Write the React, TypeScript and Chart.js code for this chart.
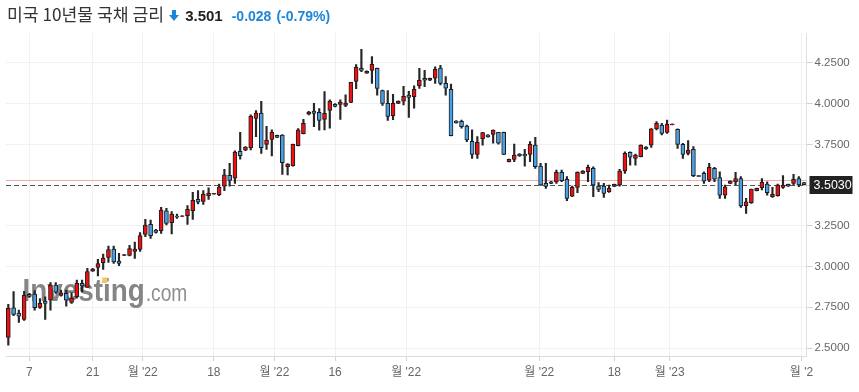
import React, { useEffect, useRef } from "react";
import { Chart, registerables } from "chart.js";

Chart.register(...registerables);

// ---- data ----
const opens = [
  2.565, 2.747, 2.714, 2.676, 2.829, 2.831, 2.749, 2.788, 2.794, 2.886,
  2.823, 2.835, 2.780, 2.815, 2.897, 2.872, 2.972, 2.995, 3.024, 3.056,
  3.107, 3.034, 3.069, 3.069, 3.093, 3.105, 3.198, 3.259, 3.224, 3.220,
  3.343, 3.269, 3.310, 3.308, 3.312, 3.343, 3.413, 3.400, 3.435, 3.445,
  3.441, 3.494, 3.560, 3.542, 3.707, 3.714, 3.730, 3.910, 3.943, 3.750,
  3.781, 3.806, 3.808, 3.613, 3.619, 3.742, 3.816, 3.935, 3.955, 3.947,
  3.904, 3.959, 3.996, 3.996, 3.990, 4.008, 4.137, 4.217, 4.187, 4.205,
  4.217, 4.080, 4.002, 3.927, 4.002, 4.015, 4.053, 4.043, 4.111, 4.156,
  4.144, 4.156, 4.219, 4.125, 4.088, 3.894, 3.892, 3.863, 3.769, 3.689,
  3.785, 3.808, 3.812, 3.824, 3.824, 3.644, 3.658, 3.691, 3.689, 3.689,
  3.746, 3.617, 3.511, 3.521, 3.519, 3.578, 3.535, 3.433, 3.486, 3.572,
  3.582, 3.603, 3.494, 3.494, 3.460, 3.492, 3.501, 3.587, 3.701, 3.664,
  3.675, 3.734, 3.746, 3.845, 3.869, 3.824, 3.871, 3.843, 3.750, 3.695,
  3.720, 3.554, 3.572, 3.531, 3.603, 3.546, 3.439, 3.511, 3.521, 3.541,
  3.374, 3.392, 3.466, 3.484, 3.507, 3.429, 3.435, 3.486, 3.505, 3.511,
  3.541, 3.515,
];
const highs = [
  2.768, 2.846, 2.733, 2.848, 2.835, 2.852, 2.804, 2.815, 2.901, 2.901,
  2.856, 2.856, 2.839, 2.917, 2.917, 2.989, 2.989, 3.044, 3.077, 3.126,
  3.126, 3.081, 3.074, 3.130, 3.150, 3.208, 3.290, 3.286, 3.228, 3.364,
  3.357, 3.337, 3.322, 3.313, 3.374, 3.456, 3.466, 3.466, 3.484, 3.450,
  3.507, 3.597, 3.634, 3.710, 3.824, 3.736, 3.931, 3.957, 4.015, 3.861,
  3.839, 3.808, 3.810, 3.632, 3.752, 3.847, 3.904, 3.953, 4.002, 3.970,
  4.074, 4.023, 4.000, 4.023, 4.054, 4.131, 4.240, 4.334, 4.201, 4.289,
  4.219, 4.084, 4.080, 4.058, 4.017, 4.107, 4.076, 4.109, 4.217, 4.205,
  4.158, 4.227, 4.236, 4.166, 4.121, 3.896, 3.900, 3.869, 3.839, 3.798,
  3.824, 3.810, 3.840, 3.824, 3.826, 3.660, 3.752, 3.693, 3.720, 3.767,
  3.794, 3.634, 3.634, 3.523, 3.593, 3.593, 3.552, 3.494, 3.582, 3.589,
  3.623, 3.613, 3.515, 3.511, 3.501, 3.507, 3.597, 3.705, 3.705, 3.691,
  3.748, 3.736, 3.847, 3.890, 3.879, 3.900, 3.876, 3.845, 3.756, 3.773,
  3.736, 3.559, 3.582, 3.634, 3.609, 3.582, 3.501, 3.527, 3.578, 3.552,
  3.419, 3.476, 3.482, 3.541, 3.521, 3.486, 3.507, 3.558, 3.507, 3.566,
  3.552, 3.517,
];
const lows = [
  2.518, 2.698, 2.657, 2.670, 2.810, 2.733, 2.743, 2.676, 2.733, 2.835,
  2.819, 2.757, 2.774, 2.806, 2.845, 2.872, 2.970, 2.942, 2.983, 3.026,
  3.019, 3.005, 3.067, 3.065, 3.050, 3.093, 3.183, 3.173, 3.205, 3.204,
  3.255, 3.200, 3.296, 3.306, 3.259, 3.290, 3.384, 3.382, 3.413, 3.444,
  3.435, 3.466, 3.494, 3.511, 3.660, 3.712, 3.716, 3.798, 3.695, 3.720,
  3.679, 3.791, 3.566, 3.562, 3.617, 3.740, 3.814, 3.931, 3.859, 3.838,
  3.839, 3.849, 3.980, 3.904, 3.982, 4.006, 4.092, 4.197, 4.186, 4.125,
  4.053, 3.990, 3.898, 3.902, 4.000, 3.992, 3.916, 3.972, 4.094, 4.105,
  4.142, 4.125, 4.115, 4.053, 3.802, 3.880, 3.849, 3.767, 3.664, 3.664,
  3.746, 3.794, 3.757, 3.752, 3.687, 3.642, 3.644, 3.677, 3.617, 3.644,
  3.603, 3.499, 3.480, 3.509, 3.511, 3.521, 3.404, 3.429, 3.454, 3.570,
  3.521, 3.429, 3.460, 3.425, 3.456, 3.490, 3.494, 3.572, 3.623, 3.623,
  3.673, 3.720, 3.732, 3.839, 3.808, 3.818, 3.870, 3.726, 3.664, 3.685,
  3.552, 3.553, 3.511, 3.521, 3.521, 3.419, 3.419, 3.509, 3.501, 3.363,
  3.327, 3.388, 3.464, 3.470, 3.439, 3.425, 3.433, 3.480, 3.492, 3.501,
  3.490, 3.501,
];
const closes = [
  2.743, 2.706, 2.696, 2.823, 2.817, 2.747, 2.774, 2.774, 2.886, 2.843,
  2.839, 2.794, 2.806, 2.897, 2.882, 2.970, 2.985, 3.019, 3.052, 3.105,
  3.028, 3.019, 3.073, 3.110, 3.107, 3.191, 3.255, 3.189, 3.210, 3.347,
  3.265, 3.323, 3.303, 3.312, 3.351, 3.406, 3.396, 3.445, 3.449, 3.449,
  3.488, 3.564, 3.529, 3.703, 3.681, 3.734, 3.922, 3.943, 3.730, 3.777,
  3.824, 3.793, 3.638, 3.630, 3.750, 3.839, 3.880, 3.949, 3.941, 3.898,
  3.941, 4.015, 3.984, 4.010, 4.004, 4.131, 4.223, 4.205, 4.199, 4.242,
  4.094, 4.002, 3.922, 4.002, 4.015, 4.045, 4.039, 4.088, 4.144, 4.144,
  4.156, 4.211, 4.125, 4.096, 3.804, 3.882, 3.859, 3.777, 3.689, 3.763,
  3.822, 3.796, 3.836, 3.757, 3.689, 3.658, 3.685, 3.679, 3.679, 3.750,
  3.613, 3.501, 3.492, 3.511, 3.578, 3.527, 3.419, 3.486, 3.578, 3.587,
  3.609, 3.501, 3.474, 3.449, 3.480, 3.505, 3.587, 3.695, 3.671, 3.685,
  3.746, 3.722, 3.845, 3.879, 3.818, 3.873, 3.875, 3.750, 3.689, 3.713,
  3.558, 3.558, 3.525, 3.609, 3.537, 3.439, 3.490, 3.525, 3.541, 3.372,
  3.398, 3.476, 3.480, 3.517, 3.453, 3.443, 3.501, 3.501, 3.494, 3.535,
  3.501, 3.503,
];

const xTickPositions = [4, 16, 25.5, 39, 50.5, 62, 75.5, 100.75, 115, 125.5, 150.5];
const xTickLabels = ["7", "21", "월 '22", "18", "월 '22", "16", "월 '22", "월 '22", "18", "월 '23", "월 '2"];
const yTicks = [2.5, 2.75, 3.0, 3.25, 3.5, 3.75, 4.0, 4.25];

const lastPrice = 3.503;
const prevClose = 3.529;

const titleName = "미국 10년물 국채 금리";
const titlePrice = "3.501";
const titleChange = "-0.028";
const titleChangePct = "(-0.79%)";
const watermarkMain = "Investing";
const watermarkSuffix = ".com";

// ---- styles ----
const UP = "#ee1111";
const DOWN = "#4aa0e6";
const FONT = "'Liberation Sans', Arial, 'Noto Sans CJK KR', sans-serif";

const overlayPlugin = {
  id: "overlay",
  beforeDatasetsDraw(chart: any) {
    const { ctx, chartArea, scales } = chart;
    const y = scales.y;
    ctx.save();
    ctx.beginPath();
    ctx.rect(chartArea.left, chartArea.top, chartArea.right - chartArea.left, chartArea.bottom - chartArea.top);
    ctx.clip();
    // watermark
    ctx.fillStyle = "#858585";
    ctx.textBaseline = "alphabetic";
    ctx.save();
    ctx.translate(22.5, 301);
    ctx.scale(0.87, 1);
    ctx.font = "bold 32px " + FONT;
    ctx.fillText(watermarkMain, 0, 0);
    const w1 = ctx.measureText(watermarkMain).width;
    ctx.restore();
    ctx.save();
    ctx.translate(22.5 + w1 * 0.87 + 1, 301);
    ctx.scale(0.8, 1);
    ctx.font = "24px " + FONT;
    ctx.fillStyle = "#8e8e8e";
    ctx.fillText(watermarkSuffix, 0, 0);
    ctx.restore();
    // orange accent
    ctx.fillStyle = "#f7c46c";
    ctx.beginPath();
    ctx.moveTo(102.5, 277.5);
    ctx.lineTo(107.5, 277.5);
    ctx.lineTo(107.5, 283);
    ctx.lineTo(101.5, 283);
    ctx.closePath();
    ctx.fill();

    // previous close line
    const yp = Math.round(y.getPixelForValue(prevClose)) + 0.5;
    ctx.strokeStyle = "#f3a8a8";
    ctx.lineWidth = 1.2;
    ctx.beginPath();
    ctx.moveTo(chartArea.left, yp);
    ctx.lineTo(chartArea.right, yp);
    ctx.stroke();
    // last price dashed line
    const yl = Math.round(y.getPixelForValue(lastPrice)) + 0.5;
    ctx.strokeStyle = "#555";
    ctx.lineWidth = 1;
    ctx.setLineDash([5, 3]);
    ctx.beginPath();
    ctx.moveTo(chartArea.left, yl);
    ctx.lineTo(chartArea.right, yl);
    ctx.stroke();
    ctx.restore();
  },
  afterDraw(chart: any) {
    const { ctx, chartArea, scales } = chart;
    const yl = scales.y.getPixelForValue(lastPrice);
    ctx.save();
    ctx.fillStyle = "#222";
    ctx.fillRect(chartArea.right + 3, Math.round(yl) - 9, 43, 18);
    ctx.fillStyle = "#fff";
    ctx.font = "12.5px " + FONT;
    ctx.textBaseline = "middle";
    ctx.textAlign = "left";
    ctx.fillText(lastPrice.toFixed(4), chartArea.right + 7, Math.round(yl) + 0.5);
    ctx.restore();
  },
};

export default function App() {
  const ref = useRef<HTMLCanvasElement | null>(null);

  useEffect(() => {
    if (!ref.current) return;
    const bodies = opens.map((o, i) => ({ x: i, y: [o, closes[i]] }));
    const wicks = lows.map((l, i) => ({ x: i, y: [l, highs[i]] }));
    const bodyColors = opens.map((o, i) => (closes[i] >= o ? UP : DOWN));

    const chart = new Chart(ref.current, {
      type: "bar",
      data: {
        datasets: [
          {
            data: bodies as any,
            backgroundColor: bodyColors,
            borderColor: "#1c1c1c",
            borderWidth: 1,
            borderSkipped: false,
            barThickness: 4,
            grouped: false,
            order: 0,
          } as any,
          {
            data: wicks as any,
            backgroundColor: "#262626",
            borderWidth: 0,
            barThickness: 1.5,
            grouped: false,
            order: 1,
          } as any,
        ],
      },
      options: {
        animation: false,
        responsive: false,
        maintainAspectRatio: false,
        devicePixelRatio: 1,
        layout: { padding: { left: 6, top: 33, right: 0, bottom: 0 } },
        plugins: { legend: { display: false }, tooltip: { enabled: false } },
        scales: {
          x: {
            type: "linear",
            min: -0.44,
            max: 151.46,
            offset: false,
            afterBuildTicks: (scale: any) => {
              scale.ticks = xTickPositions.map((v) => ({ value: v }));
            },
            afterFit: (scale: any) => {
              scale.height = 36;
            },
            grid: { color: "#f1f1f1", offset: false, tickLength: 5, tickColor: "#d4d4d4", drawTicks: true },
            border: { color: "#dcdcdc" },
            ticks: {
              autoSkip: false,
              maxRotation: 0,
              padding: 4,
              color: "#666",
              font: { family: FONT, size: 12 },
              callback: (value: any) => {
                const idx = xTickPositions.indexOf(Number(value));
                return idx >= 0 ? xTickLabels[idx] : "";
              },
            },
          },
          y: {
            type: "linear",
            position: "right",
            min: 2.451,
            max: 4.434,
            beginAtZero: false,
            afterBuildTicks: (scale: any) => {
              scale.ticks = yTicks.map((v) => ({ value: v }));
            },
            afterFit: (scale: any) => {
              scale.width = 52.5;
            },
            grid: { color: "#f1f1f1", tickLength: 6, tickColor: "#cfcfcf" },
            border: { color: "#e0e0e0" },
            ticks: {
              padding: 2,
              color: "#666",
              font: { family: FONT, size: 11.5 },
              callback: (value: any) => Number(value).toFixed(4),
            },
          },
        },
      } as any,
      plugins: [overlayPlugin],
    });
    return () => chart.destroy();
  }, []);

  return (
    <div style={{ position: "absolute", left: 0, top: 0, width: 859, height: 392, background: "#fff" }}>
      <canvas ref={ref} width={859} height={392} style={{ display: "block", width: 859, height: 392 }} />
      <div
        style={{
          position: "absolute",
          left: 7,
          top: 0,
          height: 28,
          lineHeight: "28px",
          display: "flex",
          alignItems: "baseline",
          whiteSpace: "nowrap",
          fontFamily: FONT,
        }}
      >
        <span style={{ fontSize: 17.2, color: "#333", fontFamily: "'Noto Sans CJK KR', sans-serif" }}>{titleName}</span>
        <svg width="10" height="11" viewBox="0 0 10 11" style={{ marginLeft: 5, marginRight: 6, alignSelf: "center", marginTop: 2 }}>
          <path d="M3 0 H7 V5 H10 L5 11 L0 5 H3 Z" fill="#1e86d8" />
        </svg>
        <span style={{ fontSize: 15, fontWeight: "bold", color: "#222" }}>{titlePrice}</span>
        <span style={{ fontSize: 14, fontWeight: "bold", color: "#1e86d8", marginLeft: 9 }}>{titleChange}</span>
        <span style={{ fontSize: 14, fontWeight: "bold", color: "#1e86d8", marginLeft: 5 }}>{titleChangePct}</span>
      </div>
    </div>
  );
}
